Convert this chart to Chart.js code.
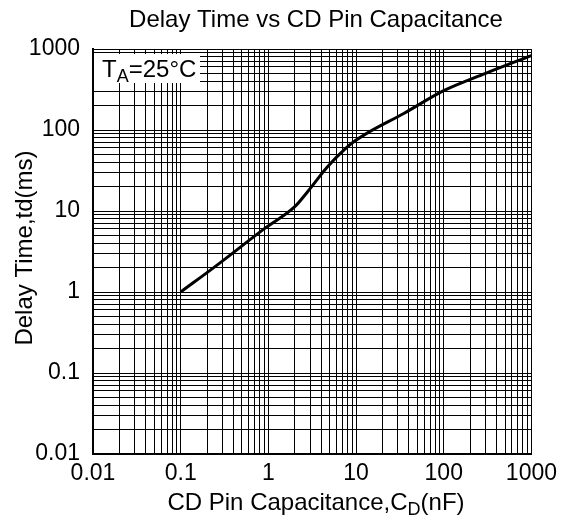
<!DOCTYPE html>
<html>
<head>
<meta charset="utf-8">
<script src="https://cdn.jsdelivr.net/npm/chart.js@4/dist/chart.umd.min.js"></script>
<style>
  html, body { margin: 0; padding: 0; background: #fff; }
  #wrap { width: 563px; height: 521px; position: relative; }
</style>
</head>
<body>
<div id="wrap"><canvas id="delayChart"></canvas></div>
<script>
// Delay time vs CD pin capacitance (log-log)

// Data
const capacitance = [0.1, 0.26, 0.91, 2, 2.8, 4.7, 7.3, 9.5, 12.8, 35, 100, 300, 1000];
const delayTime = [1, 2.15, 6.1, 11.3, 17.3, 35, 57, 72, 89, 160, 306, 500, 830];

// Axis decades (labelled) and grid steps inside each decade
const xDecades = [0.01, 0.1, 1, 10, 100, 1000];
const yDecades = [0.01, 0.1, 1, 10, 100, 1000];
const gridSteps = [1, 2, 3, 4, 5, 6, 7, 8, 9];

const FONT = 'Liberation Sans, Arial, Helvetica, sans-serif';

function gridTicks(decades) {
  const ticks = [];
  decades.forEach((d, i) => {
    if (i === decades.length - 1) {
      ticks.push({ value: d });
      return;
    }
    gridSteps.forEach(s => ticks.push({ value: +(d * s).toPrecision(3) }));
  });
  return ticks;
}

function isDecade(v, decades) {
  return decades.some(d => Math.abs(d - v) / d < 1e-6);
}

function fmt(v) {
  return v < 1 ? String(v) : String(Math.round(v));
}

// Draw text with a subscript part: parts = [[text, isSub], ...]
function drawParts(ctx, parts, x, y, size, align) {
  const subSize = Math.round(size * 0.75);
  let total = 0;
  parts.forEach(p => {
    ctx.font = (p[1] ? subSize : size) + 'px ' + FONT;
    total += ctx.measureText(p[0]).width;
  });
  let cx = align === 'center' ? x - total / 2 : x;
  ctx.textAlign = 'left';
  ctx.textBaseline = 'alphabetic';
  parts.forEach(p => {
    ctx.font = (p[1] ? subSize : size) + 'px ' + FONT;
    ctx.fillText(p[0], cx, p[1] ? y + size * 0.2 : y);
    cx += ctx.measureText(p[0]).width;
  });
  return total;
}

const labelsPlugin = {
  id: 'labelsPlugin',
  afterDraw(chart) {
    const ctx = chart.ctx;
    const area = chart.chartArea;
    ctx.save();
    ctx.fillStyle = '#000';

    // title
    ctx.font = '24px ' + FONT;
    ctx.textAlign = 'center';
    ctx.textBaseline = 'alphabetic';
    ctx.fillText('Delay Time vs CD Pin Capacitance', 316, 27);

    // x axis title
    drawParts(ctx, [['CD Pin Capacitance,C', false], ['D', true], ['(nF)', false]],
      316, 510, 24, 'center');

    // y axis title
    ctx.save();
    ctx.translate(32, 248);
    ctx.rotate(-Math.PI / 2);
    ctx.font = '24px ' + FONT;
    ctx.textAlign = 'center';
    ctx.fillText('Delay Time,td(ms)', 0, 0);
    ctx.restore();

    // condition box
    const boxX = area.left + 1, boxY = 54;
    ctx.fillStyle = '#fff';
    ctx.fillRect(boxX, boxY, 106, 29);
    ctx.fillStyle = '#000';
    drawParts(ctx, [['T', false], ['A', true], ['=25°C', false]], 102, 77, 24, 'left');

    ctx.restore();
  }
};

const ctx = document.getElementById('delayChart');
new Chart(ctx, {
  type: 'line',
  data: {
    datasets: [{
      data: capacitance.map((c, i) => ({ x: c, y: delayTime[i] })),
      borderColor: '#000',
      borderWidth: 3,
      pointRadius: 0,
      fill: false,
      cubicInterpolationMode: 'monotone'
    }]
  },
  plugins: [labelsPlugin],
  options: {
    responsive: true,
    maintainAspectRatio: false,
    animation: false,
    layout: { padding: { top: 49, right: 27, left: 0, bottom: 0 } },
    plugins: {
      legend: { display: false },
      tooltip: { enabled: false },
      title: { display: false }
    },
    scales: {
      x: {
        type: 'logarithmic',
        min: xDecades[0],
        max: xDecades[xDecades.length - 1],
        afterBuildTicks: scale => { scale.ticks = gridTicks(xDecades); },
        afterFit: scale => { scale.height = 67; },
        border: { color: '#000', width: 2 },
        grid: { color: '#000', lineWidth: 1, drawTicks: false },
        ticks: {
          autoSkip: false,
          maxRotation: 0,
          padding: 6,
          color: '#000',
          font: { family: FONT, size: 23 },
          callback: v => isDecade(v, xDecades) ? fmt(v) : ''
        }
      },
      y: {
        type: 'logarithmic',
        min: yDecades[0],
        max: yDecades[yDecades.length - 1],
        afterBuildTicks: scale => { scale.ticks = gridTicks(yDecades); },
        afterFit: scale => { scale.width = 93; },
        border: { color: '#000', width: 2 },
        grid: { color: '#000', lineWidth: 1, drawTicks: false },
        ticks: {
          autoSkip: false,
          padding: 13,
          color: '#000',
          font: { family: FONT, size: 23 },
          callback: v => isDecade(v, yDecades) ? fmt(v) : ''
        }
      }
    }
  }
});
</script>
</body>
</html>
